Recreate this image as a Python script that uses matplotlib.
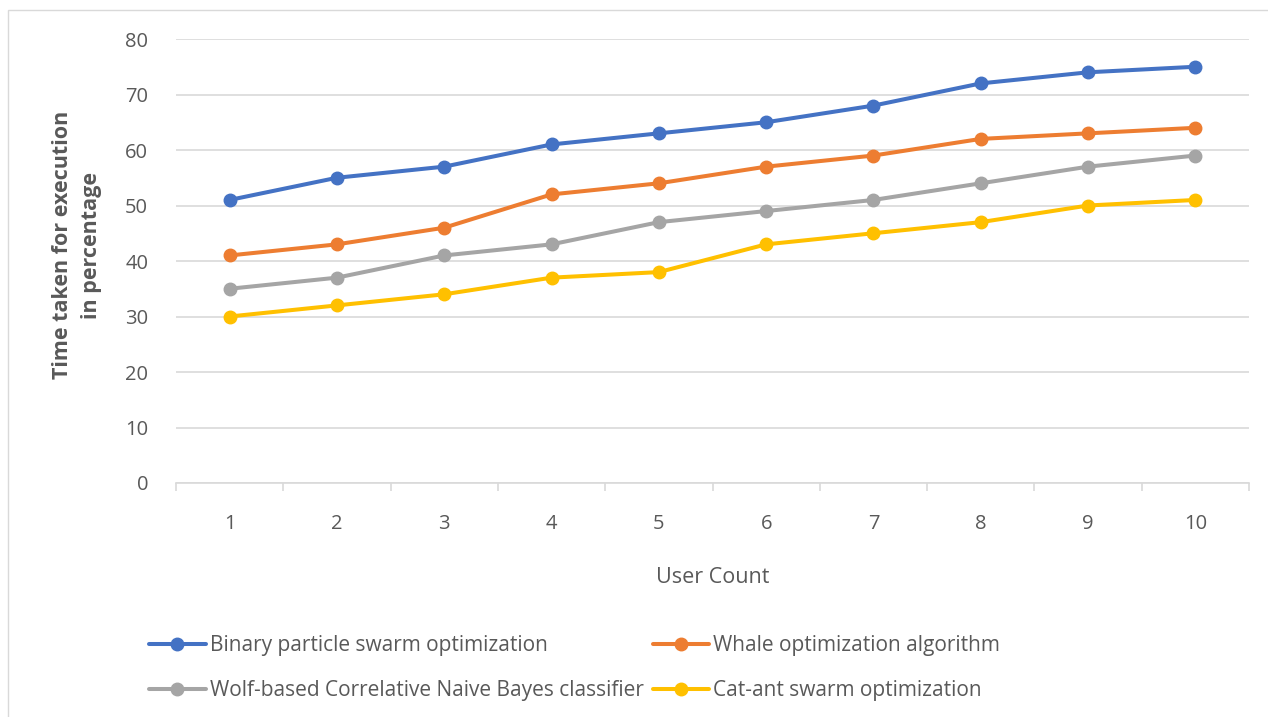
import matplotlib.pyplot as plt
from matplotlib.patches import Rectangle

user_count = [1, 2, 3, 4, 5, 6, 7, 8, 9, 10]
binary_pso = [51, 55, 57, 61, 63, 65, 68, 72, 74, 75]
whale_opt = [41, 43, 46, 52, 54, 57, 59, 62, 63, 64]
wolf_cnb = [35, 37, 41, 43, 47, 49, 51, 54, 57, 59]
cat_ant = [30, 32, 34, 37, 38, 43, 45, 47, 50, 51]

series = [
    ("Binary particle swarm optimization", binary_pso, "#4472C4"),
    ("Whale optimization algorithm", whale_opt, "#ED7D31"),
    ("Wolf-based Correlative Naive Bayes classifier", wolf_cnb, "#A5A5A5"),
    ("Cat-ant swarm optimization", cat_ant, "#FFC000"),
]

plt.rcParams['font.family'] = ['Open Sans', 'DejaVu Sans']
txt = '#595959'

fig = plt.figure(figsize=(12.68, 7.17), dpi=100)
ax = fig.add_axes([176 / 1268, 1 - 483 / 717, 1073 / 1268, 444 / 717])

# рамка вокруг диаграммы
fig.patches.append(Rectangle((8 / 1268, -0.05), 1.1, 1 - 10 / 717 + 0.05,
                             transform=fig.transFigure, fill=False,
                             edgecolor='#D9D9D9', linewidth=1))

lines = {}
for name, vals, col in series:
    ln, = ax.plot(user_count, vals, color=col, linewidth=2.9, marker='o',
                  markersize=9, label=name, solid_capstyle='round')
    lines[name] = ln

ax.set_xlim(0.5, 10.5)
ax.set_ylim(0, 80)
ax.set_yticks(range(0, 81, 10))
ax.set_xticks(user_count)
ax.set_xticks([x + 0.5 for x in range(0, 11)], minor=True)
ax.yaxis.grid(True, color='#D9D9D9', linewidth=1.2)
ax.set_axisbelow(True)
for s in ['top', 'right', 'left']:
    ax.spines[s].set_visible(False)
ax.spines['bottom'].set_color('#D9D9D9')
ax.spines['bottom'].set_linewidth(1.2)
ax.tick_params(axis='y', length=0, pad=20, labelsize=14.5, labelcolor=txt)
ax.tick_params(axis='x', which='major', length=0, pad=22, labelsize=14.5, labelcolor=txt)
ax.tick_params(axis='x', which='minor', length=6, width=1.2, color='#D9D9D9')

ax.set_xlabel("User Count", fontsize=15.5, color=txt, labelpad=24)
fig.text(77 / 1268, 1 - 245 / 717, "Time taken for execution\nin percentage",
         rotation=90, ha='center', va='center', fontsize=15.5, fontweight='bold',
         color=txt, linespacing=1.5)

names = [s[0] for s in series]
order = [names[0], names[2], names[1], names[3]]
fig.legend([lines[n] for n in order], order, ncol=2, loc='upper left',
           bbox_to_anchor=(141 / 1268, 1 - 627 / 717), frameon=False,
           fontsize=15, labelcolor=txt, handlelength=2.7, handletextpad=0.2,
           columnspacing=0.45, labelspacing=1.15, borderaxespad=0)

fig.savefig("out.png", dpi=100)
